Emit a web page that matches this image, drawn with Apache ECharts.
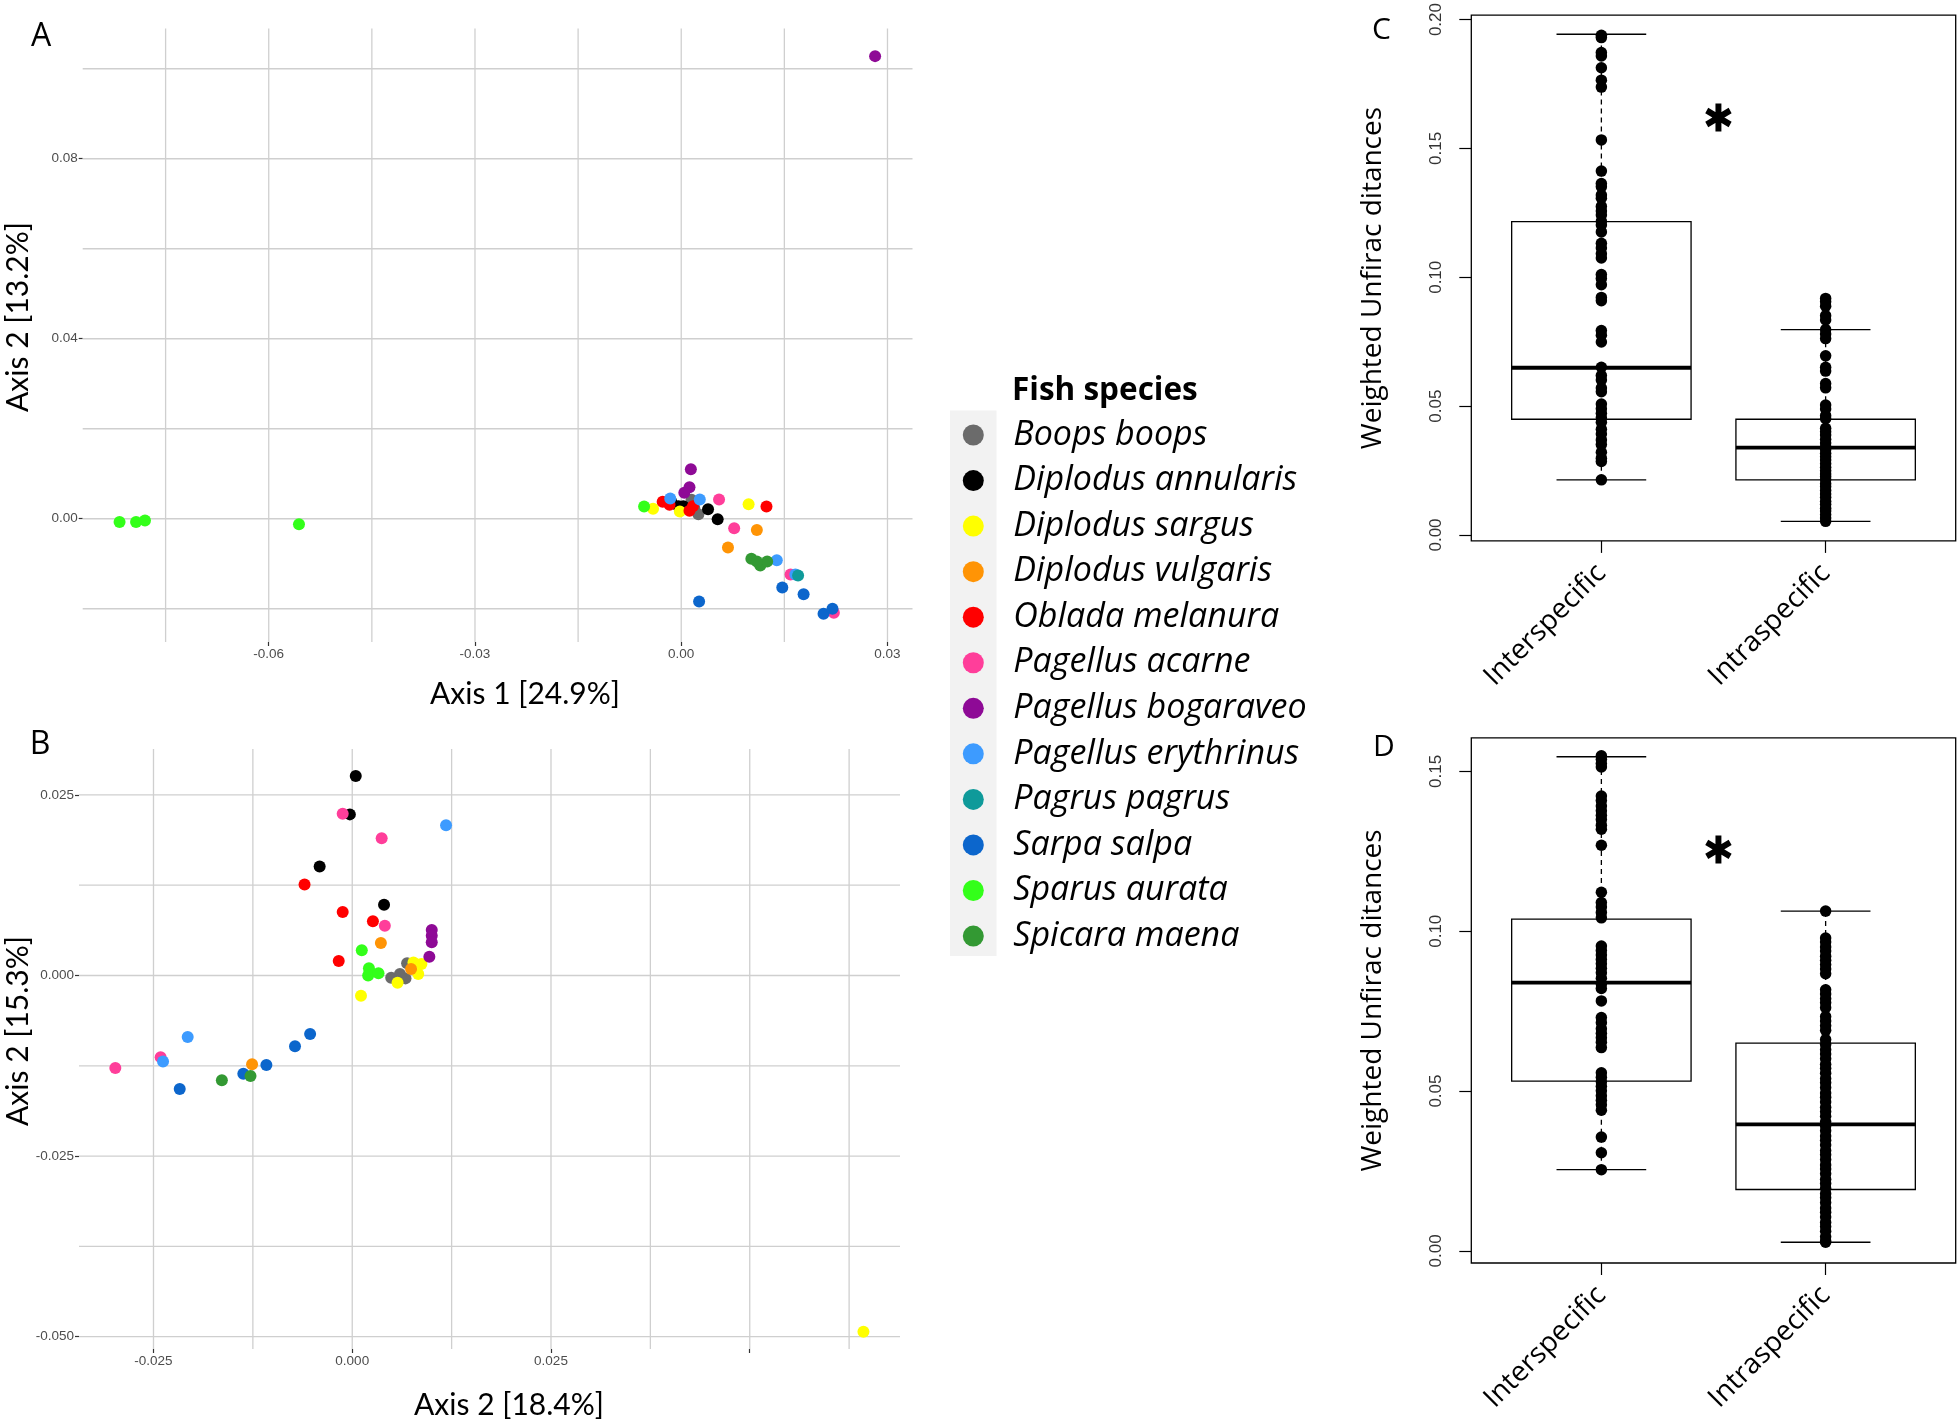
<!DOCTYPE html>
<html><head><meta charset="utf-8">
<script src="https://cdn.jsdelivr.net/npm/echarts@6/dist/echarts.min.js"></script>
<style>html,body{margin:0;padding:0;background:#fff}#c{width:1960px;height:1422px}</style>
</head><body><div id="c"></div>
<script>
// ---------- data ----------
const species = ['Boops boops','Diplodus annularis','Diplodus sargus','Diplodus vulgaris','Oblada melanura','Pagellus acarne','Pagellus bogaraveo','Pagellus erythrinus','Pagrus pagrus','Sarpa salpa','Sparus aurata','Spicara maena'];
const speciesColors = ['#6B6B6B','#000000','#FFFF00','#FF9405','#FF0000','#FF3E9A','#8E0A96','#3D9BFF','#0F9A9A','#0C66CC','#33FF1A','#339933'];

// Panel A (Axis 1 vs Axis 2), one list per species, same order as `species`
const pointsA = [
  [[0.0015,0.0042],[0.0025,0.0010],[0.0019,0.0024]],
  [[-0.0014,0.0036],[-0.0004,0.0028],[0.0003,0.0028],[0.0039,0.0021],[0.0053,-0.0001]],
  [[-0.0041,0.0022],[-0.0002,0.0016],[0.0098,0.0032]],
  [[0.0110,-0.0025],[0.0068,-0.0064]],
  [[-0.0027,0.0038],[-0.0017,0.0031],[0.0012,0.0018],[0.0017,0.0028],[0.0124,0.0027]],
  [[0.0055,0.0043],[0.0077,-0.0021],[0.0159,-0.0124],[0.0222,-0.0209]],
  [[0.0014,0.0110],[0.0012,0.0070],[0.00045,0.0058],[0.0282,0.1028]],
  [[-0.0016,0.0045],[0.0027,0.0043],[0.0139,-0.0092],[0.0166,-0.0124]],
  [[0.0170,-0.0126]],
  [[0.0147,-0.0153],[0.0178,-0.0168],[0.0026,-0.0184],[0.0207,-0.0211],[0.0220,-0.0200]],
  [[-0.0817,-0.0007],[-0.0793,-0.0007],[-0.0780,-0.0004],[-0.0556,-0.0012],[-0.0054,0.0027]],
  [[0.0102,-0.0089],[0.0115,-0.0104],[0.0125,-0.0095],[0.0110,-0.0095]]
];
// Panel B
const pointsB = [
  [[0.0069,0.0017],[0.0049,-0.0003],[0.0060,0.0002],[0.0067,-0.0004]],
  [[0.00044,0.0276],[-0.0003,0.0223],[-0.0041,0.0151],[0.0040,0.0098]],
  [[0.0077,0.0018],[0.0087,0.0016],[0.0083,0.0002],[0.0057,-0.0010],[0.0011,-0.0028],[0.0643,-0.0493]],
  [[0.0036,0.0045],[0.0074,0.0009],[-0.0126,-0.0123]],
  [[-0.0060,0.0126],[-0.0012,0.0088],[0.0026,0.0075],[-0.0017,0.0020]],
  [[-0.0012,0.0224],[0.0037,0.0190],[0.0041,0.0069],[-0.0241,-0.0113],[-0.0298,-0.0128]],
  [[0.0100,0.0063],[0.0100,0.0055],[0.0100,0.0046],[0.0097,0.0026]],
  [[0.0118,0.0208],[-0.0207,-0.0085],[-0.0238,-0.0119]],
  [],
  [[-0.0053,-0.0081],[-0.0072,-0.0098],[-0.0108,-0.0124],[-0.0137,-0.0136],[-0.0217,-0.0157]],
  [[0.0012,0.0035],[0.0021,0.0010],[0.0020,0.0000],[0.0033,0.0003]],
  [[-0.0164,-0.0145],[-0.0128,-0.0139]]
];

const ticksAX = [-0.06,-0.03,0,0.03];
const ticksAY = [0,0.04,0.08];
const gridAX = [-0.075,-0.06,-0.045,-0.03,-0.015,0,0.015,0.03];
const gridAY = [-0.02,0,0.02,0.04,0.06,0.08,0.10];
const ticksBX = [-0.025,0,0.025,0.05];
const labelsBX = [-0.025,0,0.025];
const ticksBY = [-0.05,-0.025,0,0.025];
const gridBX = [-0.025,-0.0125,0,0.0125,0.025,0.0375,0.05,0.0625];
const gridBY = [-0.05,-0.0375,-0.025,-0.0125,0,0.0125,0.025];

// Panels C and D: boxplots of weighted UniFrac distances
const categories = ['Interspecific','Intraspecific'];
const ticksCY = [0,0.05,0.10,0.15,0.20];
const ticksDY = [0,0.05,0.10,0.15];
// [lower whisker, Q1, median, Q3, upper whisker]
const boxC = [[0.0214,0.0449,0.0649,0.1216,0.1943],[0.0053,0.0214,0.0339,0.0449,0.0797]];
const boxD = [[0.0254,0.0531,0.0839,0.1038,0.1546],[0.0027,0.0192,0.0396,0.0650,0.1063]];
const interC = [0.1939,0.1930,0.1872,0.1859,0.1813,0.1765,0.1738,0.1533,0.1412,0.1364,0.1351,0.1319,0.1307,0.1275,0.1257,0.1242,0.1217,0.1203,0.1176,0.1132,0.1114,0.1091,0.1075,0.1011,0.0995,0.0971,0.0922,0.0909,0.0793,0.0775,0.0749,0.0651,0.0619,0.0601,0.0570,0.0556,0.0508,0.0490,0.0472,0.0455,0.0437,0.0410,0.0392,0.0369,0.0351,0.0321,0.0298,0.0285,0.0214];
const intraC = [0.0918,0.0905,0.0888,0.0851,0.0834,0.0797,0.0780,0.0762,0.0695,0.0651,0.0636,0.0588,0.0571,0.0504,0.0489,0.0463,0.0451,0.0414,0.0401,0.0388,0.0371,0.0357,0.0343,0.0331,0.0317,0.0304,0.0291,0.0276,0.0263,0.0249,0.0237,0.0226,0.0214,0.0199,0.0188,0.0173,0.0159,0.0146,0.0131,0.0119,0.0104,0.0093,0.0079,0.0066,0.0053];
const interD = [0.1549,0.1538,0.1525,0.1514,0.1423,0.1409,0.1392,0.1377,0.1363,0.1350,0.1332,0.1319,0.1269,0.1122,0.1090,0.1076,0.1059,0.1042,0.0954,0.0940,0.0926,0.0912,0.0898,0.0884,0.0870,0.0853,0.0835,0.0821,0.0782,0.0730,0.0714,0.0695,0.0681,0.0667,0.0653,0.0636,0.0557,0.0543,0.0529,0.0515,0.0501,0.0485,0.0471,0.0457,0.0440,0.0356,0.0307,0.0254];
const intraD = [0.1063,0.0979,0.0966,0.0951,0.0938,0.0922,0.0909,0.0896,0.0882,0.0867,0.0817,0.0804,0.0789,0.0776,0.0761,0.0733,0.0719,0.0704,0.0690,0.0661,0.0646,0.0629,0.0616,0.0601,0.0584,0.0571,0.0556,0.0539,0.0526,0.0511,0.0494,0.0481,0.0466,0.0449,0.0436,0.0421,0.0404,0.0391,0.0376,0.0359,0.0346,0.0331,0.0314,0.0301,0.0286,0.0269,0.0256,0.0241,0.0224,0.0211,0.0196,0.0179,0.0166,0.0151,0.0134,0.0121,0.0106,0.0089,0.0076,0.0061,0.0044,0.0031,0.0027];
const starC = [[1.522,0.1620]];
const starD = [[1.522,0.1256]];

// ---------- helpers ----------
const fmt = d => v => (v < 0 ? '-' : '') + Math.abs(v).toFixed(d);
const GRIDCOL = '#cfcfcf';
// six-armed asterisk symbol (vertical bar + two bars at +/-30 deg)
function asteriskPath(){
  const L = 50, T = 11; let p = '';
  [90, 30, 150].forEach(a => {
    const r = a*Math.PI/180, c = Math.cos(r), s = Math.sin(r);
    const pts = [[L,T],[L,-T],[-L,-T],[-L,T]].map(([u,v]) => [(u*c - v*s).toFixed(2), (-(u*s + v*c)).toFixed(2)]);
    p += 'M' + pts.map(q => q.join(',')).join('L') + 'Z';
  });
  return 'path://' + p;
}
function vGrid(vals, xi, yi){
  return {type:'custom', xAxisIndex:xi, yAxisIndex:yi, silent:true, z:1, animation:false,
    data: vals.map(v=>[v,0]), encode:{x:0,y:1},
    renderItem:(p,api)=>{const x=api.coord([api.value(0),0])[0]; const cs=p.coordSys;
      return {type:'line', shape:{x1:x,y1:cs.y,x2:x,y2:cs.y+cs.height}, style:{stroke:GRIDCOL,lineWidth:1.3}};}};
}
function hGrid(vals, xi, yi){
  return {type:'custom', xAxisIndex:xi, yAxisIndex:yi, silent:true, z:1, animation:false,
    data: vals.map(v=>[0,v]), encode:{x:0,y:1},
    renderItem:(p,api)=>{const y=api.coord([0,api.value(1)])[1]; const cs=p.coordSys;
      return {type:'line', shape:{x1:cs.x,y1:y,x2:cs.x+cs.width,y2:y}, style:{stroke:GRIDCOL,lineWidth:1.3}};}};
}
function boxSeries(stats, xi, yi){
  return {type:'custom', xAxisIndex:xi, yAxisIndex:yi, silent:true, z:2, animation:false,
    data: stats.map((s,i)=>[i+1].concat(s)), encode:{x:0,y:[1,2,3,4,5]},
    renderItem:(p,api)=>{
      const x=api.value(0); const c=[1,2,3,4,5].map(k=>api.coord([x,api.value(k)]));
      const cx=c[0][0]; const bw=Math.abs(api.size([0.4,0])[0]); const sw=Math.abs(api.size([0.2,0])[0]);
      const st={stroke:'#000',lineWidth:1.3};
      return {type:'group', children:[
        {type:'line', shape:{x1:cx,y1:c[3][1],x2:cx,y2:c[4][1]}, style:Object.assign({lineDash:[5,4]},st)},
        {type:'line', shape:{x1:cx,y1:c[0][1],x2:cx,y2:c[1][1]}, style:Object.assign({lineDash:[5,4]},st)},
        {type:'line', shape:{x1:cx-sw,y1:c[4][1],x2:cx+sw,y2:c[4][1]}, style:st},
        {type:'line', shape:{x1:cx-sw,y1:c[0][1],x2:cx+sw,y2:c[0][1]}, style:st},
        {type:'rect', shape:{x:cx-bw,y:c[3][1],width:2*bw,height:c[1][1]-c[3][1]}, style:{stroke:'#000',lineWidth:1.3,fill:'rgba(0,0,0,0)'}},
        {type:'line', shape:{x1:cx-bw,y1:c[2][1],x2:cx+bw,y2:c[2][1]}, style:{stroke:'#000',lineWidth:3.8}}
      ]};
    }};
}
function ggX(min,max,ticks,labels,d){
  return {type:'value', min, max, axisLine:{show:false, onZero:false}, splitLine:{show:false},
    axisTick:{show:true, customValues:ticks, length:4, lineStyle:{color:'#333',width:1.2}},
    axisLabel:{customValues:labels, formatter:fmt(d), color:'#4D4D4D', fontSize:13.5, fontFamily:'Liberation Sans', margin:5}};
}
function ggY(min,max,ticks,d){
  return {type:'value', min, max, axisLine:{show:false, onZero:false}, splitLine:{show:false},
    axisTick:{show:true, customValues:ticks, length:4, lineStyle:{color:'#333',width:1.2}},
    axisLabel:{customValues:ticks, formatter:fmt(d), color:'#4D4D4D', fontSize:13.5, fontFamily:'Liberation Sans', margin:5}};
}
function rX(){
  return {type:'value', min:0.42, max:2.58, axisLine:{show:false, onZero:false}, splitLine:{show:false},
    axisTick:{show:true, customValues:[1,2], length:12, lineStyle:{color:'#000',width:1.2}},
    axisLabel:{customValues:[1,2], formatter:v=>categories[Math.round(v)-1], rotate:45, margin:28,
      color:'#000', fontSize:28, fontFamily:'Open Sans'}};
}
function rY(min,max,ticks){
  return {type:'value', min, max, axisLine:{show:false, onZero:false}, splitLine:{show:false},
    name:'Weighted Unfirac ditances', nameLocation:'middle', nameGap:84,
    nameTextStyle:{fontSize:28, fontFamily:'Open Sans', color:'#000'},
    axisTick:{show:true, customValues:ticks, length:12, lineStyle:{color:'#000',width:1.2}},
    axisLabel:{customValues:ticks, formatter:v=>v.toFixed(2), rotate:90, margin:26,
      color:'#333', fontSize:17, fontFamily:'Liberation Sans'}};
}
function stripSeries(vals, cat, xi, yi){
  return {type:'scatter', xAxisIndex:xi, yAxisIndex:yi, silent:true, z:3, animation:false,
    data: vals.map(v=>[cat,v]), symbolSize:11.5, itemStyle:{color:'#000',opacity:1}};
}
function starSeries(pts, xi, yi){
  return {type:'scatter', xAxisIndex:xi, yAxisIndex:yi, silent:true, z:4, data:pts,
    symbol:asteriskPath(), symbolKeepAspect:true, symbolSize:[27,28],
    itemStyle:{color:'#000',opacity:1}};
}

// ---------- option ----------
const series = [
  vGrid(gridAX,0,0), hGrid(gridAY,0,0),
  vGrid(gridBX,1,1), hGrid(gridBY,1,1)
];
species.forEach((sp,i)=>{
  series.push({type:'scatter', name:sp, xAxisIndex:0, yAxisIndex:0, data:pointsA[i], symbolSize:12, z:3,
    itemStyle:{color:speciesColors[i],opacity:1}});
});
species.forEach((sp,i)=>{
  series.push({type:'scatter', name:sp, xAxisIndex:1, yAxisIndex:1, data:pointsB[i], symbolSize:12, z:3,
    itemStyle:{color:speciesColors[i],opacity:1}});
});
series.push(boxSeries(boxC,2,2), stripSeries(interC,1,2,2), stripSeries(intraC,2,2,2), starSeries(starC,2,2));
series.push(boxSeries(boxD,3,3), stripSeries(interD,1,3,3), stripSeries(intraD,2,3,3), starSeries(starD,3,3));

const txt = (text,x,y,font,extra) => Object.assign({type:'text', x, y, silent:true,
  style:{text, font, fill:'#000', align:'center', verticalAlign:'middle', textAlign:'center', textVerticalAlign:'middle'}}, extra||{});

const option = {
  animation:false,
  backgroundColor:'#fff',
  grid:[
    {left:82.7, top:28.5, width:829.8, height:613.5},
    {left:79, top:749, width:821, height:600},
    {left:1471.3, top:15.2, width:484.4, height:525.7, show:true, borderColor:'#000', borderWidth:1.3, backgroundColor:'rgba(0,0,0,0)'},
    {left:1471.3, top:737.9, width:484.4, height:525.1, show:true, borderColor:'#000', borderWidth:1.3, backgroundColor:'rgba(0,0,0,0)'}
  ],
  xAxis:[
    Object.assign(ggX(-0.08706,0.03364,ticksAX,ticksAX,2),{gridIndex:0}),
    Object.assign(ggX(-0.03437,0.0689,ticksBX,labelsBX,3),{gridIndex:1}),
    Object.assign(rX(),{gridIndex:2}),
    Object.assign(rX(),{gridIndex:3})
  ],
  yAxis:[
    Object.assign(ggY(-0.02739,0.10894,ticksAY,2),{gridIndex:0}),
    Object.assign(ggY(-0.0517,0.03135,ticksBY,3),{gridIndex:1}),
    Object.assign(rY(-0.0023,0.2017,ticksCY),{gridIndex:2}),
    Object.assign(rY(-0.0038,0.1605,ticksDY),{gridIndex:3})
  ],
  legend:{data:species, orient:'vertical', left:962.8, top:418, padding:0, itemWidth:70, itemHeight:21, itemGap:11.55,
    icon:'circle', selectedMode:false,
    textStyle:{fontFamily:'Open Sans', fontStyle:'italic', fontSize:34, color:'#000', lineHeight:34}},
  graphic:[
    {type:'rect', silent:true, z:-1, shape:{x:950, y:410.6, width:46.5, height:545.4}, style:{fill:'#F2F2F2'}},
    txt('A',41,37,'32px "Open Sans"'),
    txt('B',40,745,'32px "Open Sans"'),
    txt('C',1381.5,30,'30px "Open Sans"'),
    txt('D',1384,747,'30px "Open Sans"'),
    txt('Axis 1 [24.9%]',525,694,'30px Lato'),
    txt('Axis 2 [13.2%]',18,317,'30px Lato',{rotation:Math.PI/2}),
    txt('Axis 2 [18.4%]',509,1405,'30px Lato'),
    txt('Axis 2 [15.3%]',18,1031,'30px Lato',{rotation:Math.PI/2}),
    {type:'text', x:1012, y:391, silent:true, style:{text:'Fish species', font:'bold 31.5px "Open Sans"', fill:'#000', align:'left', verticalAlign:'middle', textAlign:'left', textVerticalAlign:'middle'}}
  ],
  series
};
const chart = echarts.init(document.getElementById('c'), null, {renderer:'canvas'});
chart.setOption(option);
</script></body></html>
